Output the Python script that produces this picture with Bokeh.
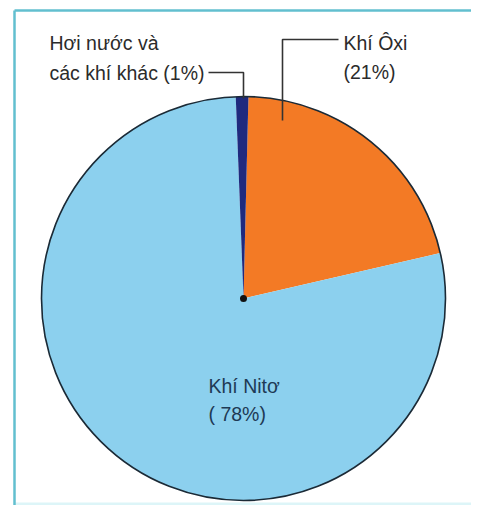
import math
from bokeh.plotting import figure
from bokeh.models import Range1d, ColumnDataSource
from bokeh.embed import file_html
from bokeh.resources import INLINE
from bokeh.core.properties import value

# ---- data ----
gases = ["Khí Ôxi", "Khí Nitơ", "Hơi nước và các khí khác"]
percents = [21, 78, 1]
colors = ["#F37A25", "#8CD0EE", "#1F2A7E"]

W, H = 471, 505
p = figure(width=W, height=H, output_backend="svg", toolbar_location=None,
           x_range=Range1d(0, W), y_range=Range1d(0, H), min_border=0,
           background_fill_color="white", border_fill_color="white")
p.axis.visible = False
p.grid.visible = False
p.outline_line_color = None

def X(px):
    return px

def Y(py):
    return H - py

cx, cy, r = X(243), Y(298), 202
start_deg = 88.6

starts, ends = [], []
acc = 0.0
for v in percents:
    s = start_deg - acc * 3.6
    e = s - v * 3.6
    starts.append(math.radians(s))
    ends.append(math.radians(e))
    acc += v

src = ColumnDataSource(dict(gas=gases, pct=percents, color=colors,
                            start=starts, end=ends))

# frame
p.quad(left=[X(14)], right=[X(479)], bottom=[Y(505)], top=[Y(502)],
       fill_color="#DDF5F8", line_color=None)
p.line([X(14), X(479)], [Y(10), Y(10)], line_color="#62BFCF", line_width=2.5)
p.line([X(14), X(14)], [Y(10), Y(513)], line_color="#62BFCF", line_width=2.5)

p.wedge(x=cx, y=cy, radius=r, start_angle="start", end_angle="end",
        direction="clock", fill_color="color", line_color=None, source=src)
p.circle(x=[cx], y=[cy], radius=r, fill_color=None,
         line_color="#1B2A36", line_width=1.6)
p.scatter(x=[cx], y=[cy], size=7, fill_color="#111111", line_color=None)

# leader lines
p.line([X(208), X(243), X(243)], [Y(72), Y(72), Y(98)],
       line_color="#333333", line_width=1.6)
p.line([X(338), X(282), X(282)], [Y(39), Y(39), Y(120)],
       line_color="#333333", line_width=1.6)

font = value("Liberation Sans")
tcol = "#2B2B2B"
fs = "19.5px"
p.text(x=[X(49), X(49)], y=[Y(42), Y(72)],
       text=["Hơi nước và", "các khí khác (%d%%)" % percents[2]],
       text_font=font, text_font_size=fs, text_color=tcol,
       text_baseline="middle", text_align="left")
p.text(x=[X(343), X(343)], y=[Y(42), Y(71)],
       text=[gases[0], "(%d%%)" % percents[0]],
       text_font=font, text_font_size=fs, text_color=tcol,
       text_baseline="middle", text_align="left")
p.text(x=[X(208), X(208)], y=[Y(385), Y(413)],
       text=[gases[1], "( %d%%)" % percents[1]],
       text_font=font, text_font_size=fs, text_color="#1E3A55",
       text_baseline="middle", text_align="left")

open("out.html", "w").write(file_html(p, INLINE))
